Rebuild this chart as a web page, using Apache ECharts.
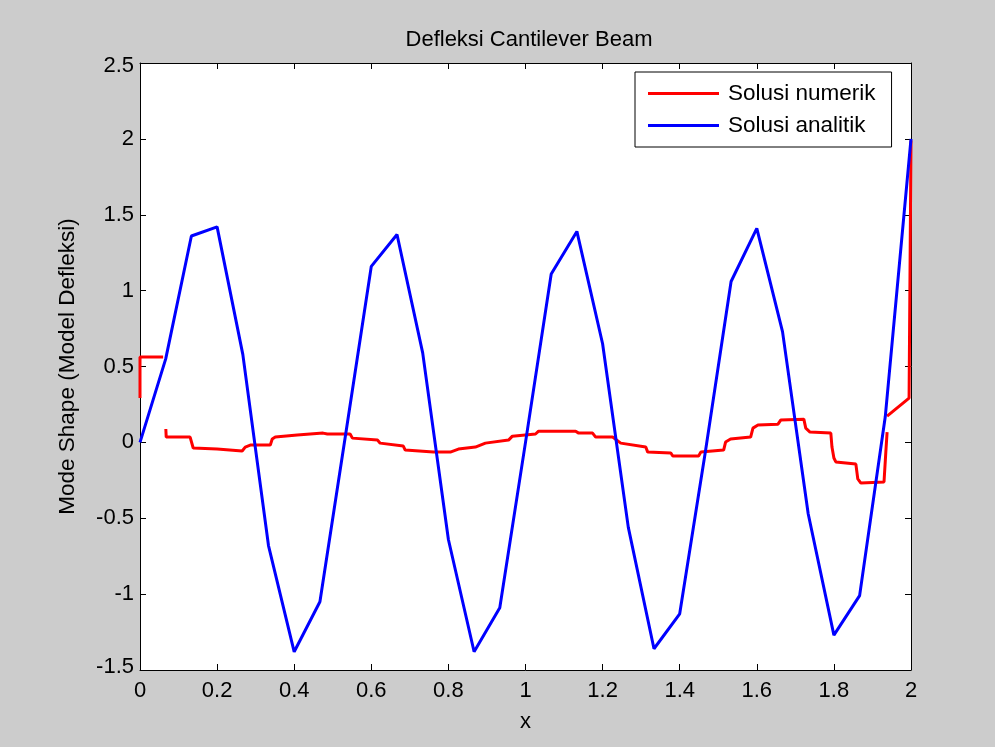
<!DOCTYPE html>
<html>
<head>
<meta charset="utf-8">
<script src="https://cdn.jsdelivr.net/npm/echarts@6/dist/echarts.min.js"></script>
<style>
html,body{margin:0;padding:0;background:#cccccc;}
#chart{width:995px;height:747px;}
</style>
</head>
<body>
<div id="chart"></div>
<script>
// Tick values
const xTicks = [0, 0.2, 0.4, 0.6, 0.8, 1, 1.2, 1.4, 1.6, 1.8, 2];
const yTicks = [-1.5, -1, -0.5, 0, 0.5, 1, 1.5, 2, 2.5];

// Solusi analitik (blue)
const analitikX = [0, 0.0667, 0.1333, 0.2, 0.2667, 0.3333, 0.4, 0.4667, 0.5333, 0.6, 0.6667, 0.7333, 0.8, 0.8667, 0.9333, 1.0, 1.0667, 1.1333, 1.2, 1.2667, 1.3333, 1.4, 1.4667, 1.5333, 1.6, 1.6667, 1.7333, 1.8, 1.8667, 1.9333, 2.0];
const analitikY = [0, 0.55, 1.36, 1.42, 0.58, -0.68, -1.38, -1.05, 0.05, 1.16, 1.37, 0.59, -0.64, -1.38, -1.09, 0.0, 1.11, 1.39, 0.65, -0.56, -1.36, -1.13, -0.06, 1.06, 1.41, 0.73, -0.47, -1.27, -1.01, 0.17, 2.0];

// Solusi numerik (red), three pieces
const numerikAX = [0, 0, 0.060];
const numerikAY = [0.293, 0.563, 0.563];

const numerikBX = [0.067, 0.068, 0.130, 0.138, 0.200, 0.203, 0.265, 0.273, 0.286, 0.338, 0.343, 0.351, 0.408, 0.410, 0.475, 0.486, 0.545, 0.551, 0.616, 0.623, 0.683, 0.688, 0.761, 0.805, 0.826, 0.870, 0.896, 0.956, 0.966, 1.026, 1.034, 1.130, 1.138, 1.174, 1.182, 1.226, 1.247, 1.312, 1.317, 1.377, 1.382, 1.449, 1.455, 1.514, 1.519, 1.532, 1.584, 1.590, 1.603, 1.655, 1.662, 1.722, 1.727, 1.738, 1.792, 1.795, 1.800, 1.805, 1.857, 1.862, 1.870, 1.930, 1.935, 1.938];
const numerikBY = [0.088, 0.035, 0.035, -0.037, -0.044, -0.057, -0.057, -0.031, -0.018, -0.018, 0.022, 0.035, 0.048, 0.061, 0.061, 0.055, 0.055, 0.028, 0.015, -0.005, -0.024, -0.051, -0.064, -0.064, -0.044, -0.031, -0.005, 0.015, 0.041, 0.055, 0.074, 0.074, 0.061, 0.061, 0.035, 0.035, -0.005, -0.031, -0.064, -0.070, -0.090, -0.090, -0.064, -0.051, 0.002, 0.022, 0.035, 0.094, 0.114, 0.120, 0.147, 0.153, 0.094, 0.068, 0.061, -0.031, -0.103, -0.129, -0.143, -0.241, -0.268, -0.261, -0.051, 0.068];

const numerikCX = [1.938, 1.995, 2.0];
const numerikCY = [0.173, 0.292, 1.99];

const zip = (xs, ys) => xs.map((x, i) => [x, ys[i]]);

const FONT = '"Liberation Sans", Arial, sans-serif';
const chart = echarts.init(document.getElementById('chart'));

const redStyle = { color: '#ff0000', width: 3 };
const blueStyle = { color: '#0000ff', width: 3 };

const baseAxis = {
  axisLine: { show: true, onZero: false, lineStyle: { color: '#000', width: 1 } },
  axisTick: { show: true, inside: true, length: 6, lineStyle: { color: '#000' } },
  splitLine: { show: false }
};

const yMin = yTicks[0], yMax = yTicks[yTicks.length - 1];

chart.setOption({
  backgroundColor: '#cccccc',
  animation: false,
  title: {
    text: 'Defleksi Cantilever Beam',
    left: 524, top: 24, textAlign: 'center',
    textStyle: { fontFamily: FONT, fontSize: 22, fontWeight: 'normal', color: '#000' }
  },
  legend: {
    orient: 'vertical',
    left: 635, top: 72,
    data: ['Solusi numerik', 'Solusi analitik'],
    backgroundColor: '#ffffff',
    borderColor: '#000', borderWidth: 1, borderRadius: 0,
    padding: [10, 16, 10, 13],
    itemWidth: 71, itemHeight: 3, itemGap: 9,
    icon: 'rect',
    textStyle: { fontFamily: FONT, fontSize: 22.5, lineHeight: 22, color: '#000', padding: [0, 0, 0, 4] }
  },
  grid: { left: 140, top: 63, right: 84, bottom: 77, show: true, backgroundColor: '#ffffff', borderWidth: 0 },
  xAxis: [
    Object.assign({}, baseAxis, {
      type: 'value', min: xTicks[0], max: xTicks[xTicks.length - 1], interval: 0.2,
      position: 'bottom',
      name: 'x', nameLocation: 'middle', nameGap: 41,
      nameTextStyle: { fontFamily: FONT, fontSize: 22, color: '#000' },
      axisLabel: { fontFamily: FONT, fontSize: 22, color: '#000', margin: 10 }
    }),
    Object.assign({}, baseAxis, {
      type: 'value', min: xTicks[0], max: xTicks[xTicks.length - 1], interval: 0.2,
      position: 'top', axisLabel: { show: false }
    })
  ],
  yAxis: [
    Object.assign({}, baseAxis, {
      type: 'value', min: yMin, max: yMax, interval: 0.5,
      position: 'left',
      name: 'Mode Shape (Model Defleksi)', nameLocation: 'middle', nameGap: 61,
      nameTextStyle: { fontFamily: FONT, fontSize: 22.5, color: '#000' },
      axisLabel: {
        fontFamily: FONT, fontSize: 22, color: '#000', margin: 6,
        formatter: function (v) {
          if (v === yMax) return '{top|' + v + '}';
          if (v === yMin) return '{bot|' + v + '}';
          return String(v);
        },
        rich: {
          top: { fontFamily: FONT, fontSize: 22, color: '#000', padding: [6, 0, 0, 0] },
          bot: { fontFamily: FONT, fontSize: 22, color: '#000', padding: [0, 0, 6, 0] }
        }
      }
    }),
    Object.assign({}, baseAxis, {
      type: 'value', min: yMin, max: yMax, interval: 0.5,
      position: 'right', axisLabel: { show: false }
    })
  ],
  series: [
    { name: 'Solusi numerik', type: 'line', data: zip(numerikAX, numerikAY), showSymbol: false, symbol: 'none', lineStyle: redStyle, itemStyle: { color: '#ff0000' }, z: 2 },
    { name: 'Solusi numerik', type: 'line', data: zip(numerikBX, numerikBY), showSymbol: false, symbol: 'none', lineStyle: redStyle, itemStyle: { color: '#ff0000' }, z: 2 },
    { name: 'Solusi numerik', type: 'line', data: zip(numerikCX, numerikCY), showSymbol: false, symbol: 'none', lineStyle: redStyle, itemStyle: { color: '#ff0000' }, z: 2 },
    { name: 'Solusi analitik', type: 'line', data: zip(analitikX, analitikY), showSymbol: false, symbol: 'none', lineStyle: blueStyle, itemStyle: { color: '#0000ff' }, z: 3 }
  ]
});
</script>
</body>
</html>
